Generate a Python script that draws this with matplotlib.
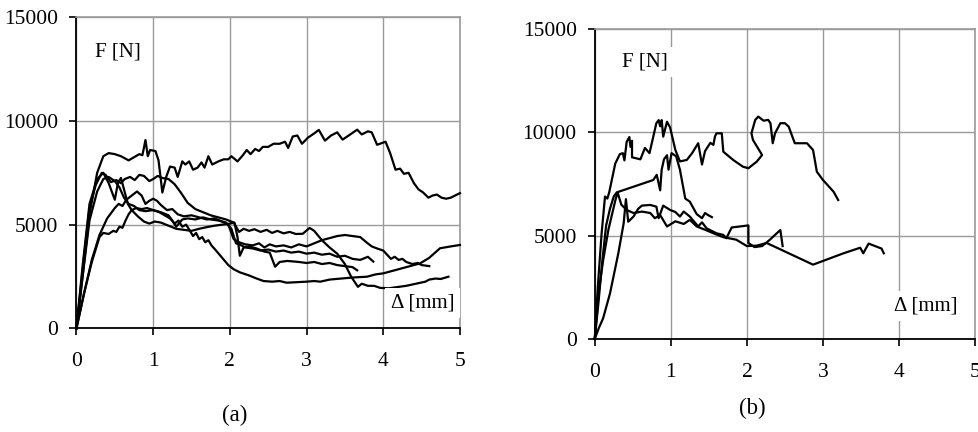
import numpy as np
import matplotlib
matplotlib.use("Agg")
import matplotlib.pyplot as plt

plt.rcParams['font.family'] = ['Liberation Serif', 'DejaVu Serif']

# (a) load-displacement curves, pairs of (displacement [mm], force [N])
a1 = [(0, 0), (0.08, 2500), (0.17, 5500), (0.27, 7500), (0.35, 8300), (0.42, 8450), (0.5, 8400),
      (0.58, 8300), (0.68, 8100), (0.75, 8250), (0.82, 8400), (0.86, 8350), (0.9, 9080), (0.93, 8300),
      (0.96, 8600), (1.03, 8550), (1.07, 8100), (1.12, 6550), (1.17, 7300), (1.22, 7800), (1.28, 7750),
      (1.32, 7300), (1.38, 8050), (1.42, 7900), (1.47, 8050), (1.52, 7650), (1.58, 7750), (1.63, 8000),
      (1.67, 7750), (1.72, 8300), (1.77, 7900), (1.85, 8050), (1.92, 8150), (1.98, 8150), (2.02, 8300),
      (2.1, 8050), (2.17, 8350), (2.22, 8600), (2.27, 8400), (2.33, 8650), (2.38, 8550), (2.43, 8750),
      (2.5, 8750), (2.57, 8900), (2.65, 8900), (2.72, 9000), (2.76, 8700), (2.82, 9250), (2.88, 9300),
      (2.94, 8900), (3.02, 9200), (3.1, 9400), (3.16, 9570), (3.24, 9050), (3.32, 9300), (3.4, 9450),
      (3.47, 9100), (3.55, 9300), (3.66, 9580), (3.72, 9350), (3.8, 9500), (3.85, 9450), (3.92, 8850),
      (4.03, 9000), (4.09, 8450), (4.16, 7650), (4.22, 7700), (4.27, 7450), (4.33, 7500), (4.4, 7000),
      (4.46, 6700), (4.52, 6550), (4.59, 6300), (4.64, 6400), (4.7, 6450), (4.76, 6300), (4.82, 6250),
      (4.88, 6300), (5.0, 6520)]
a2 = [(0, 0), (0.08, 2800), (0.17, 5800), (0.25, 6900), (0.33, 7500), (0.38, 7400), (0.45, 7050),
      (0.52, 7150), (0.58, 7000), (0.63, 7200), (0.7, 7300), (0.76, 7150), (0.82, 7400), (0.88, 7350),
      (0.95, 7100), (1.0, 7200), (1.06, 7350), (1.12, 7250), (1.2, 7200), (1.28, 6950), (1.36, 6550),
      (1.45, 6050), (1.55, 5750), (1.65, 5600), (1.75, 5450), (1.85, 5350), (1.95, 5250), (2.05, 5100),
      (2.12, 4650), (2.18, 4800), (2.25, 4700), (2.32, 4780), (2.4, 4650), (2.48, 4750), (2.55, 4600),
      (2.62, 4700), (2.7, 4580), (2.78, 4650), (2.86, 4550), (2.95, 4560), (3.04, 4840), (3.1, 4700),
      (3.2, 4250), (3.3, 3900), (3.4, 3600), (3.5, 3100), (3.58, 2500), (3.67, 2000), (3.72, 2150),
      (3.8, 2050), (3.88, 2050), (3.96, 1950), (4.07, 1930), (4.3, 2050), (4.55, 2250), (4.6, 2350),
      (4.68, 2400), (4.75, 2380), (4.85, 2490)]
a3 = [(0, 0), (0.08, 3000), (0.17, 6000), (0.27, 7200), (0.35, 7500), (0.42, 7000), (0.47, 6500),
      (0.5, 6200), (0.54, 7000), (0.58, 7250), (0.62, 6700), (0.67, 6000), (0.72, 5700), (0.8, 5400),
      (0.88, 5150), (0.95, 5050), (1.02, 5150), (1.1, 5100), (1.2, 4950), (1.3, 4800), (1.4, 4750),
      (1.5, 4700), (1.6, 4800), (1.7, 4880), (1.8, 4950), (1.9, 5000), (2.0, 5050), (2.06, 5100),
      (2.1, 4400), (2.13, 3500), (2.18, 3900), (2.25, 3950), (2.35, 3850), (2.45, 3700), (2.52, 3650),
      (2.59, 2970), (2.65, 3200), (2.75, 3250), (2.9, 3200), (3.0, 3150), (3.1, 3200), (3.2, 3100),
      (3.3, 3150), (3.4, 3050), (3.5, 3000), (3.6, 2950), (3.66, 2800)]
a4 = [(0, 0), (0.1, 1700), (0.2, 3300), (0.3, 4500), (0.4, 5300), (0.5, 5800), (0.55, 6000),
      (0.6, 5900), (0.65, 6200), (0.72, 6400), (0.79, 6600), (0.85, 6400), (0.9, 6000), (0.95, 6150),
      (1.0, 6250), (1.05, 6150), (1.1, 5950), (1.18, 5700), (1.25, 5750), (1.32, 5500), (1.4, 5400),
      (1.5, 5450), (1.6, 5350), (1.7, 5250), (1.8, 5300), (1.9, 5150), (1.98, 5000), (2.05, 4300),
      (2.12, 4150), (2.2, 4050), (2.3, 4000), (2.38, 4100), (2.45, 3900), (2.52, 4050), (2.6, 3950),
      (2.7, 4000), (2.8, 3900), (2.9, 4050), (3.0, 3950), (3.1, 4100), (3.2, 4250), (3.3, 4350),
      (3.4, 4450), (3.5, 4500), (3.6, 4450), (3.7, 4400), (3.78, 4150), (3.85, 3950), (3.92, 3850),
      (4.0, 3750), (4.05, 3550), (4.1, 3350), (4.15, 3450), (4.2, 3300), (4.25, 3350), (4.3, 3200),
      (4.38, 3100), (4.45, 3150), (4.5, 3050), (4.6, 3000)]
a5 = [(0, 0), (0.1, 1700), (0.2, 3200), (0.3, 4400), (0.35, 4600), (0.42, 4550),
      (0.48, 4700), (0.52, 4650), (0.56, 4900), (0.6, 4850), (0.64, 5200), (0.68, 5500), (0.72, 5700),
      (0.78, 5800), (0.85, 5750), (0.92, 5800), (1.0, 5700), (1.08, 5600), (1.15, 5450), (1.22, 5300),
      (1.28, 5050), (1.33, 5200), (1.38, 4900), (1.43, 5000), (1.48, 4700), (1.52, 4450), (1.56, 4600),
      (1.6, 4300), (1.64, 4400), (1.68, 4150), (1.72, 4250), (1.76, 4000), (1.82, 3750), (1.9, 3400),
      (1.98, 3050), (2.05, 2850), (2.13, 2700), (2.25, 2550), (2.35, 2400), (2.44, 2280), (2.55, 2250),
      (2.65, 2280), (2.74, 2200), (2.85, 2220), (3.0, 2250), (3.1, 2280), (3.18, 2250), (3.3, 2350),
      (3.45, 2400), (3.6, 2450), (3.79, 2490), (3.9, 2600), (4.0, 2650), (4.15, 2800), (4.3, 2950),
      (4.48, 3130), (4.6, 3400), (4.74, 3860), (4.88, 3950), (5.0, 4020)]
a6 = [(0, 0), (0.08, 2500), (0.17, 5200), (0.27, 6600), (0.35, 7200), (0.42, 7300), (0.5, 7100),
      (0.56, 6800), (0.62, 6300), (0.68, 6000), (0.75, 5900), (0.82, 5700), (0.9, 5650), (1.0, 5700),
      (1.1, 5600), (1.2, 5450), (1.25, 5200), (1.3, 4900), (1.38, 5250), (1.45, 5300), (1.55, 5250),
      (1.65, 5350), (1.75, 5250), (1.85, 5200), (1.95, 5100), (2.02, 4800), (2.08, 4100), (2.15, 4000),
      (2.2, 3900), (2.3, 3850), (2.4, 3750), (2.5, 3800), (2.6, 3700), (2.7, 3750), (2.8, 3650),
      (2.9, 3700), (3.0, 3600), (3.1, 3650), (3.2, 3550), (3.3, 3600), (3.4, 3450), (3.5, 3500),
      (3.6, 3350), (3.7, 3300), (3.8, 3450), (3.87, 3220)]

# (b)
b1 = [(0, 0), (0.04, 2500), (0.09, 5100), (0.135, 6900), (0.166, 6800), (0.19, 7100), (0.27, 8500),
      (0.33, 8950), (0.37, 9000), (0.39, 8650), (0.42, 9550), (0.455, 9780), (0.47, 9300), (0.49, 9600),
      (0.49, 8800), (0.6, 8700), (0.66, 9250), (0.72, 9000), (0.81, 10450), (0.84, 10600), (0.86, 10300),
      (0.88, 10600), (0.9, 9800), (0.95, 10520), (0.99, 10250), (1.06, 9150), (1.12, 8600), (1.21, 8670),
      (1.28, 9000), (1.36, 9480), (1.41, 8450), (1.45, 9100), (1.52, 9500), (1.56, 9400), (1.58, 9800),
      (1.6, 9960), (1.67, 9960), (1.69, 9070), (1.82, 8670), (1.95, 8340), (2.02, 8270), (2.13, 8590),
      (2.2, 8910), (2.08, 9640), (2.06, 9960), (2.11, 10610), (2.15, 10770), (2.22, 10570), (2.28, 10610),
      (2.31, 10450), (2.34, 9480), (2.37, 9960), (2.44, 10450), (2.5, 10450), (2.55, 10280), (2.63, 9480),
      (2.79, 9480), (2.87, 9150), (2.92, 8100), (3.0, 7700), (3.14, 7130), (3.2, 6730)]
b2 = [(0, 0), (0.05, 1800), (0.1, 3800), (0.15, 5500), (0.2, 6300), (0.25, 6900), (0.29, 7100),
      (0.77, 7700), (0.815, 7950), (0.86, 7200), (0.88, 8200), (0.91, 8700), (0.95, 8900), (0.97, 8200),
      (1.01, 9000), (1.07, 8850), (1.12, 8200), (1.19, 6800), (1.25, 6650), (1.34, 6050), (1.41, 5850),
      (1.45, 6100), (1.49, 6000), (1.54, 5900)]
b3 = [(0, 0), (0.05, 500), (0.11, 1000), (0.2, 2200), (0.31, 4150), (0.38, 5600), (0.41, 6770),
      (0.44, 5680), (0.51, 5930), (0.57, 6300), (0.62, 6460), (0.73, 6490), (0.81, 6410), (0.84, 5850),
      (0.9, 6460), (0.99, 6250), (1.06, 6150), (1.12, 5930), (1.17, 6170), (1.25, 5930), (1.36, 5450),
      (1.41, 5650), (1.47, 5360), (1.6, 5120), (1.69, 5040), (1.73, 4880), (1.8, 5400), (2.02, 5500),
      (2.02, 4650), (2.1, 4450), (2.2, 4500), (2.3, 4800), (2.44, 5280), (2.47, 4500)]
b4 = [(0, 0), (0.05, 2200), (0.11, 3800), (0.18, 5300), (0.27, 6700), (0.3, 7100), (0.35, 6500),
      (0.42, 6250), (0.51, 6100), (0.62, 6170), (0.73, 6100), (0.79, 5850), (0.86, 6000), (0.95, 5450),
      (1.06, 5700), (1.17, 5570), (1.25, 5770), (1.34, 5450), (1.45, 5290), (1.56, 5120), (1.69, 4930),
      (1.86, 4810), (2.0, 4500), (2.13, 4520), (2.26, 4650), (2.87, 3600), (3.27, 4150), (3.49, 4420),
      (3.53, 4150), (3.6, 4620), (3.77, 4380), (3.8, 4150)]

curves_a = [a1, a2, a3, a4, a5, a6]
curves_b = [b1, b2, b3, b4]

x_ticks = [0, 1, 2, 3, 4, 5]
y_ticks = [0, 5000, 10000, 15000]

fig = plt.figure(figsize=(9.79, 4.32), dpi=100)
ax_a = fig.add_axes([0.0781, 0.240, 0.3917, 0.720])
ax_b = fig.add_axes([0.6075, 0.2153, 0.3885, 0.717])

box = dict(facecolor='white', edgecolor='none', pad=4)

def style(ax):
    ax.set_xlim(0, 5)
    ax.set_ylim(0, 15000)
    ax.set_xticks(x_ticks)
    ax.set_yticks(y_ticks)
    ax.grid(True, color='#9a9a9a', linewidth=1.0)
    ax.set_axisbelow(True)
    for s in ('top', 'right'):
        ax.spines[s].set_color('#9a9a9a')
        ax.spines[s].set_linewidth(1.2)
    for s in ('left', 'bottom'):
        ax.spines[s].set_color('black')
        ax.spines[s].set_linewidth(1.3)
    ax.tick_params(axis='both', direction='out', length=5, width=1.2, labelsize=15.5)
    ax.tick_params(axis='x', pad=12)
    ax.tick_params(axis='y', pad=8)

for ax, curves in ((ax_a, curves_a), (ax_b, curves_b)):
    style(ax)
    for c in curves:
        x, y = zip(*c)
        ax.plot(x, y, color='black', linewidth=1.6, clip_on=False, zorder=3)

ax_a.text(0.24, 13330, 'F [N]', fontsize=15, va='center', ha='left', bbox=box, zorder=5)
ax_a.text(4.1, 1220, 'Δ [mm]', fontsize=15, va='center', ha='left', bbox=box, zorder=5)
ax_b.text(0.355, 13415, 'F [N]', fontsize=15, va='center', ha='left', bbox=box, zorder=5)
ax_b.text(3.93, 1610, 'Δ [mm]', fontsize=15, va='center', ha='left', bbox=box, zorder=5)

fig.text(0.24, 0.039, '(a)', fontsize=16.5, ha='center', va='center')
fig.text(0.768, 0.0556, '(b)', fontsize=16.5, ha='center', va='center')

fig.savefig('out.png', dpi=100)
